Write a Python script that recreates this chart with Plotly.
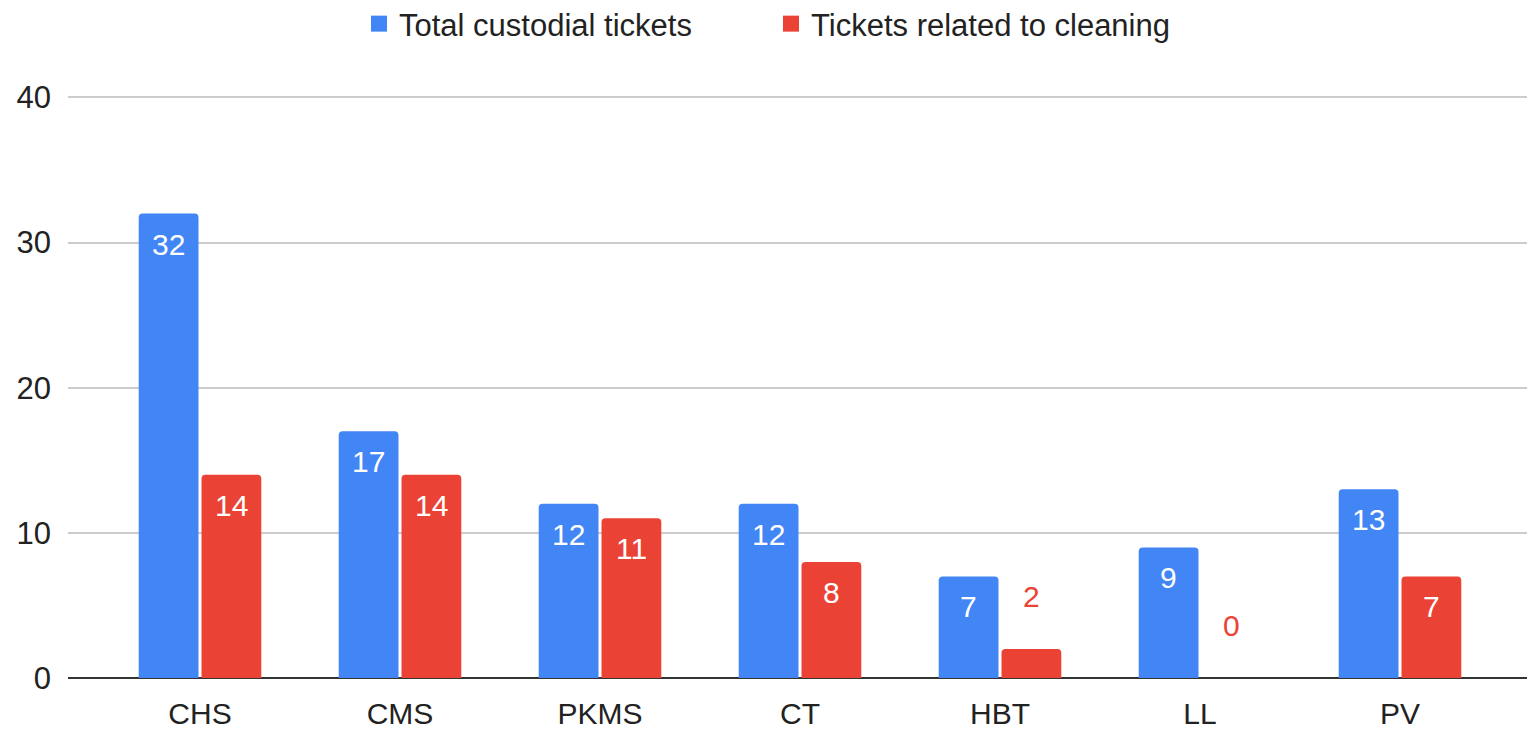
import plotly.graph_objects as go

categories = ["CHS", "CMS", "PKMS", "CT", "HBT", "LL", "PV"]
total_tickets = [32, 17, 12, 12, 7, 9, 13]
cleaning_tickets = [14, 14, 11, 8, 2, 0, 7]
series_names = ["Total custodial tickets", "Tickets related to cleaning"]
y_ticks = [0, 10, 20, 30, 40]

BLUE = "#4285F4"
RED = "#EA4335"
FONT = "Liberation Sans, Arial, sans-serif"
TEXT = "#222222"

# page body has an 8px default margin; the figure is shifted by that much
BODY = 8

fig = go.Figure()
annotations = []
series = [(series_names[0], total_tickets, BLUE, -31.5),
          (series_names[1], cleaning_tickets, RED, 31.5)]
for name, vals, col, xoff in series:
    fig.add_trace(go.Bar(
        x=categories, y=vals, name=name, legendgroup=name, showlegend=False,
        marker=dict(color=col, line=dict(width=0), cornerradius=4),
        hoverinfo="x+y+name",
    ))
    for cat, v in zip(categories, vals):
        inside = v >= 5
        annotations.append(dict(
            x=cat, y=v, xref="x", yref="y", text=str(v), showarrow=False,
            xshift=xoff, yanchor="top" if inside else "bottom",
            yshift=-12 if inside else 34,
            font=dict(family=FONT, size=30, color="white" if inside else col),
        ))

# legend entries (larger square swatches, like the original)
for name, vals, col, xoff in series:
    fig.add_trace(go.Scatter(
        x=[None], y=[None], mode="markers", name=name, legendgroup=name,
        marker=dict(symbol="square", size=30, color=col),
        showlegend=True, hoverinfo="skip",
    ))

fig.update_layout(
    width=1535, height=730,
    barmode="group",
    bargap=0.372,
    bargroupgap=0.048,
    paper_bgcolor="white",
    plot_bgcolor="white",
    margin=dict(l=68 - BODY, r=BODY, t=96 - BODY, b=52 + BODY, autoexpand=False),
    font=dict(family=FONT, size=30, color=TEXT),
    legend=dict(orientation="h", xref="container", yref="container",
                x=(359 - BODY) / 1535, xanchor="left",
                y=1 - (24 - BODY) / 730, yanchor="middle",
                font=dict(family=FONT, size=31, color=TEXT),
                itemwidth=30, entrywidth=367, entrywidthmode="pixels",
                itemsizing="trace"),
    xaxis=dict(range=[-0.66, 6.675], showgrid=False, showline=False,
               ticks="", ticklabelstandoff=15,
               tickfont=dict(size=30, color=TEXT)),
    yaxis=dict(range=[0, 40.1], tickvals=y_ticks, showgrid=True,
               gridcolor="#cccccc", gridwidth=2, zeroline=True,
               zerolinecolor="#333333", zerolinewidth=2,
               ticks="", ticklabelstandoff=16,
               tickfont=dict(size=31, color=TEXT)),
    annotations=annotations,
)

fig.write_html("out.html")
